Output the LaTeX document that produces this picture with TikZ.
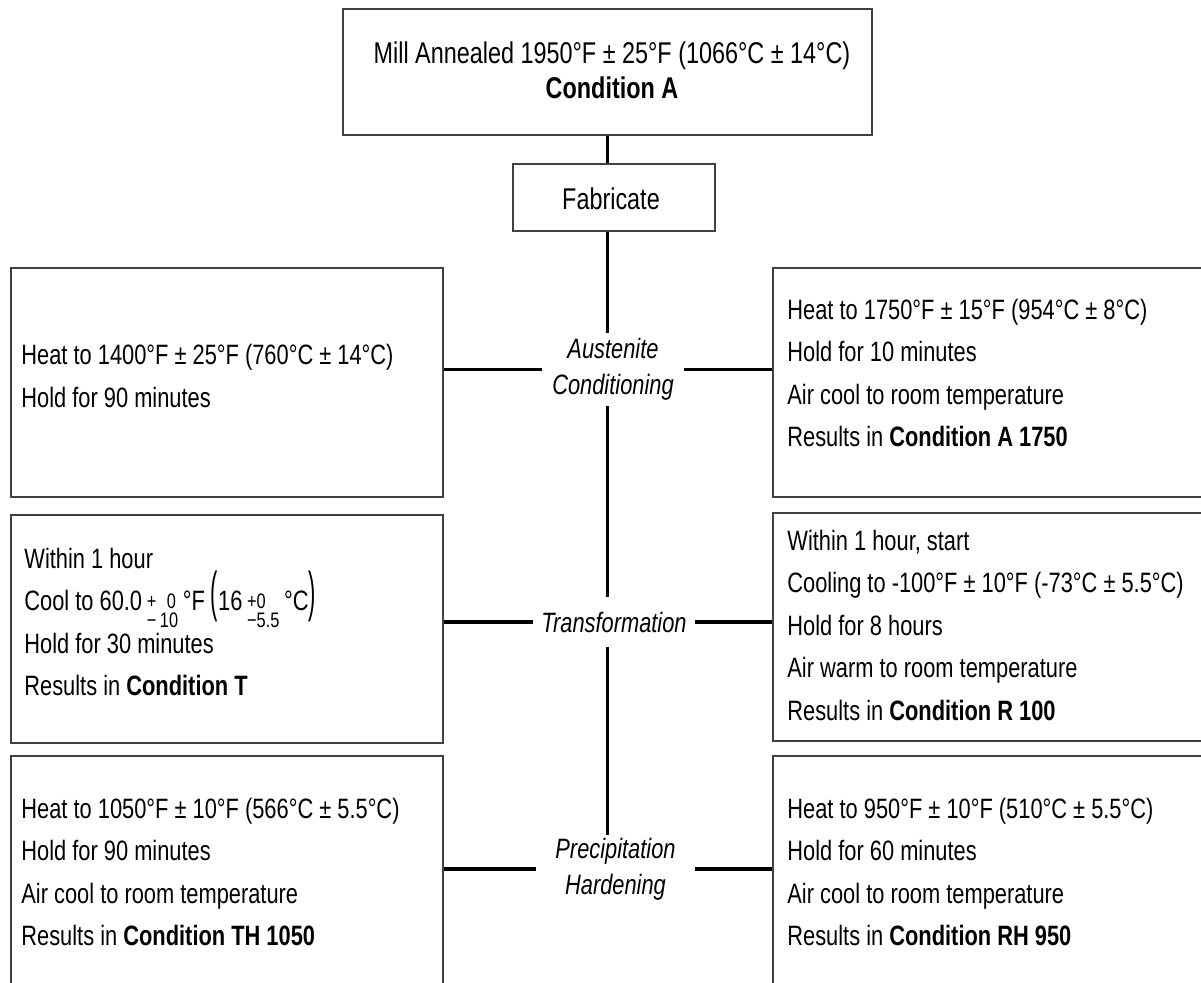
\documentclass[tikz,border=0pt]{standalone}
\usepackage{fontspec}
\setmainfont{Liberation Sans}[FakeStretch=0.78]
\usetikzlibrary{calc}
\tikzset{
  box/.style={draw=black!75, line width=0.9pt, inner sep=0pt, rectangle},
  txt/.style={align=left, inner sep=0pt, anchor=west, font=\fontsize{14}{21.25}\selectfont},
  lbl/.style={align=center, inner sep=0pt, font=\fontsize{14}{18}\selectfont\itshape},
  conn/.style={line width=1.8pt, black},
  vconn/.style={line width=1.4pt, black}
}
\newcommand\stk[2]{\raisebox{-0.5ex}{\fontsize{10.5}{9.5}\selectfont\renewcommand\arraystretch{0.72}\setlength\tabcolsep{0pt}\begin{tabular}{l}#1\\#2\end{tabular}}}
\newcommand\bigpar[1]{\scalebox{1}[1.95]{#1}}
\begin{document}
\begin{tikzpicture}[x=0.5pt,y=-0.5pt]
\useasboundingbox (0,0) rectangle (1201,983);
% boxes
\node[box, minimum width=264.5pt, minimum height=63pt] (top) at (607.5,72) {};
\node[box, minimum width=101pt, minimum height=33.5pt] (fab) at (614,197.5) {};
\node[box, minimum width=216pt, minimum height=114.5pt] (L1) at (227,382.5) {};
\node[box, minimum width=218.5pt, minimum height=114.5pt] (R1) at (991.5,382.5) {};
\node[box, minimum width=216pt, minimum height=114pt] (L2) at (227,629) {};
\node[box, minimum width=218.5pt, minimum height=114pt] (R2) at (991.5,627) {};
\node[box, minimum width=216pt, minimum height=122pt] (L3) at (227,878) {};
\node[box, minimum width=218.5pt, minimum height=122pt] (R3) at (991.5,878) {};
% texts
\node[align=center, inner sep=0pt, font=\fontsize{15}{17.5}\selectfont] (topt) at (612,70)
  {Mill Annealed 1950°F ± 25°F (1066°C ± 14°C)\\\textbf{Condition A}};
\node[inner sep=0pt, font=\fontsize{15}{17.5}\selectfont] (fabt) at (611,199) {Fabricate};
\node[txt] (L1t) at (21,376) {Heat to 1400°F ± 25°F (760°C ± 14°C)\\Hold for 90 minutes};
\node[txt] (R1t) at (787,373) {Heat to 1750°F ± 15°F (954°C ± 8°C)\\Hold for 10 minutes\\Air cool to room temperature\\Results in \textbf{Condition A 1750}};
\node[txt] (L2t) at (24,622) {Within 1 hour\\Cool to 60.0\,\stk{+\,\,\,0}{−\,10}\,°F \bigpar{(}16\,\stk{+0}{−5.5}\,°C\bigpar{)}\\Hold for 30 minutes\\Results in \textbf{Condition T}};
\node[txt] (R2t) at (787,625) {Within 1 hour, start\\Cooling to -100°F ± 10°F (-73°C ± 5.5°C)\\Hold for 8 hours\\Air warm to room temperature\\Results in \textbf{Condition R 100}};
\node[txt] (L3t) at (21,872) {Heat to 1050°F ± 10°F (566°C ± 5.5°C)\\Hold for 90 minutes\\Air cool to room temperature\\Results in \textbf{Condition TH 1050}};
\node[txt] (R3t) at (787,872) {Heat to 950°F ± 10°F (510°C ± 5.5°C)\\Hold for 60 minutes\\Air cool to room temperature\\Results in \textbf{Condition RH 950}};
% labels
\node[lbl, minimum width=71pt, minimum height=36.5pt] (aus) at (613,369.5) {Austenite\\Conditioning};
\node[lbl, minimum width=81pt, minimum height=25pt] (trans) at (614,622) {Transformation};
\node[lbl, minimum width=79.5pt, minimum height=34pt] (prec) at (615.5,869) {Precipitation\\Hardening};
% connectors
\draw[vconn] (top.south) -- (top.south |- fab.north);
\draw[vconn] (top.south |- fab.south) -- (top.south |- aus.north);
\draw[vconn] (top.south |- aus.south) -- (top.south |- trans.north);
\draw[vconn] (top.south |- trans.south) -- (top.south |- prec.north);
\draw[conn] (aus.west) -- (aus.west -| L1.east);
\draw[conn] (aus.east) -- (aus.east -| R1.west);
\draw[conn] (trans.west) -- (trans.west -| L2.east);
\draw[conn] (trans.east) -- (trans.east -| R2.west);
\draw[conn] (prec.west) -- (prec.west -| L3.east);
\draw[conn] (prec.east) -- (prec.east -| R3.west);
\end{tikzpicture}
\end{document}
